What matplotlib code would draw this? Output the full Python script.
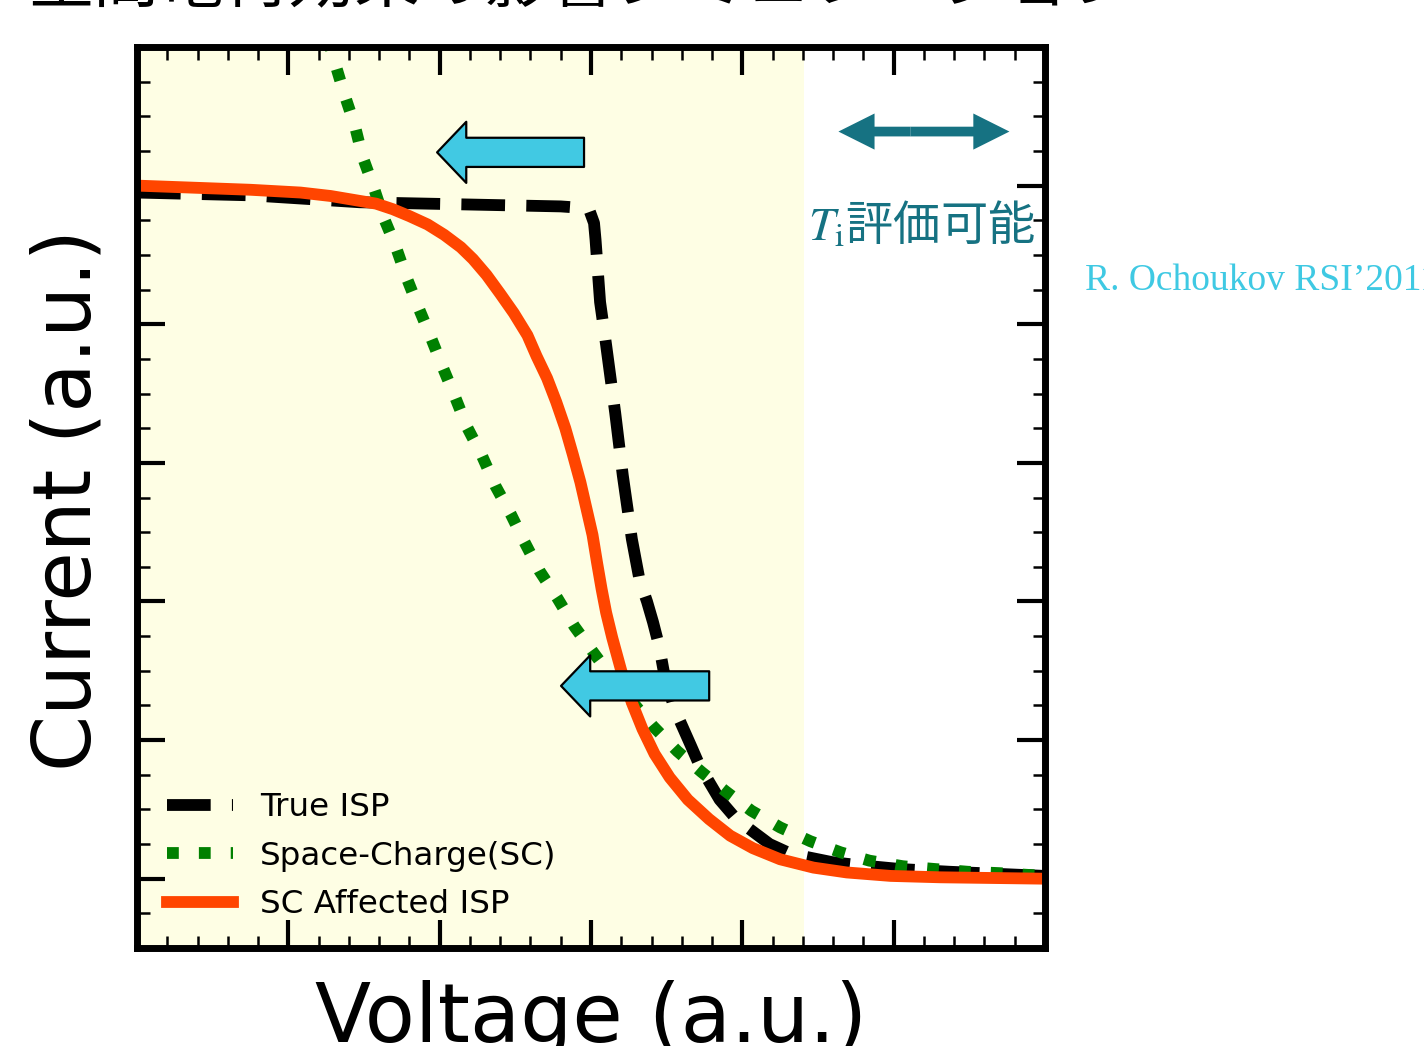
import matplotlib
matplotlib.use('Agg')
import matplotlib.pyplot as plt
from matplotlib.ticker import MultipleLocator, AutoMinorLocator
from matplotlib.patches import FancyArrowPatch

plt.rcParams['font.family'] = ['DejaVu Sans', 'Noto Sans CJK JP']
plt.rcParams['mathtext.fontset'] = 'stix'

# ---- data (arbitrary units) ----
true_x = [0.00, 0.75, 1.47, 2.80, 2.93, 2.99, 3.02, 3.03, 3.06, 3.10, 3.16, 3.21,
          3.27, 3.32, 3.37, 3.41, 3.45, 3.48, 3.55, 3.66, 3.72, 3.85, 3.96, 4.18,
          4.32, 4.59, 4.75, 5.04, 5.37, 6.00]
true_y = [4.95, 4.93, 4.88, 4.85, 4.84, 4.82, 4.73, 4.61, 4.16, 3.85, 3.36, 2.91,
          2.45, 2.16, 2.00, 1.85, 1.68, 1.50, 1.23, 0.96, 0.81, 0.57, 0.43, 0.25,
          0.18, 0.12, 0.10, 0.07, 0.05, 0.02]

sc_x = [1.26, 1.37, 1.44, 1.49, 1.56, 1.63, 1.71, 1.78, 1.86, 1.94, 2.02, 2.10,
        2.18, 2.28, 2.37, 2.47, 2.56, 2.66, 2.78, 2.89, 3.01, 3.16, 3.41, 3.57,
        3.73, 3.89, 4.06, 4.25, 4.45, 4.65, 4.84, 5.06, 5.27, 5.49, 5.70, 6.00]
sc_y = [6.06, 5.66, 5.43, 5.21, 5.00, 4.77, 4.56, 4.34, 4.12, 3.91, 3.69, 3.48,
        3.26, 3.05, 2.83, 2.63, 2.43, 2.22, 2.02, 1.82, 1.64, 1.42, 1.10, 0.92,
        0.77, 0.63, 0.49, 0.37, 0.27, 0.19, 0.13, 0.09, 0.07, 0.05, 0.04, 0.02]

aff_x = [0.00, 0.75, 1.08, 1.28, 1.47, 1.58, 1.69, 1.80, 1.92, 2.03, 2.14, 2.22,
         2.31, 2.40, 2.49, 2.58, 2.64, 2.71, 2.77, 2.83, 2.88, 2.93, 2.97, 3.01,
         3.04, 3.07, 3.10, 3.14, 3.20, 3.27, 3.34, 3.42, 3.52, 3.64, 3.78, 3.92,
         4.07, 4.25, 4.47, 4.69, 4.98, 5.31, 6.00]
aff_y = [5.00, 4.97, 4.95, 4.925, 4.89, 4.87, 4.83, 4.78, 4.72, 4.645, 4.555, 4.47,
         4.355, 4.22, 4.08, 3.92, 3.77, 3.61, 3.44, 3.25, 3.06, 2.86, 2.67, 2.48,
         2.28, 2.09, 1.92, 1.74, 1.50, 1.27, 1.08, 0.90, 0.73, 0.57, 0.43, 0.31,
         0.22, 0.14, 0.08, 0.045, 0.02, 0.01, 0.0]

labels = ['True ISP', 'Space-Charge(SC)', 'SC Affected ISP']
ti_region_end = 4.41

W, H = 1424, 1046
fig = plt.figure(figsize=(W / 100, H / 100), dpi=100)
ax = fig.add_axes([137 / W, 1 - 948 / H, 908 / W, 901 / H])
ax.set_xlim(0, 6)
ax.set_ylim(-0.5, 6.0)

ax.axvspan(0, ti_region_end, color='#FEFEE4', lw=0, zorder=0)

ax.plot(true_x, true_y, color='black', lw=8.5, ls=(0, (3.7, 1.8)), label=labels[0], zorder=2)
ax.plot(sc_x, sc_y, color='#008000', lw=8.5, ls=(0, (1.0, 1.7)), label=labels[1], zorder=2)
ax.plot(aff_x, aff_y, color='#FF4500', lw=8.5, label=labels[2], zorder=2)

leg = ax.legend(loc='lower left', bbox_to_anchor=(0.033, 0.031), frameon=False,
                fontsize=23.4, handlelength=2.03, handletextpad=0.83,
                labelspacing=0.535, borderpad=0, borderaxespad=0)

# ticks
ax.xaxis.set_major_locator(MultipleLocator(1))
ax.xaxis.set_minor_locator(AutoMinorLocator(5))
ax.yaxis.set_major_locator(MultipleLocator(1))
ax.yaxis.set_minor_locator(AutoMinorLocator(4))
ax.tick_params(which='both', direction='in', top=True, right=True,
               labelbottom=False, labelleft=False)
ax.tick_params(which='major', length=20, width=3)
ax.tick_params(which='minor', length=9, width=1.8)
for s in ax.spines.values():
    s.set_linewidth(5)

ax.set_xlabel('Voltage (a.u.)', fontsize=59)
ax.xaxis.set_label_coords(0.5, -0.036)
ax.set_ylabel('Current (a.u.)', fontsize=58)
ax.yaxis.set_label_coords(-0.0326, 0.497)

# block arrows (cyan, pointing left)
cyan = '#41C9E3'
for (xr, xl, yy) in [(2.954, 1.983, 5.24), (3.781, 2.802, 1.391)]:
    arr = FancyArrowPatch((xr, yy), (xl, yy),
                          arrowstyle='simple,head_length=21,head_width=44,tail_width=21',
                          mutation_scale=1, shrinkA=0, shrinkB=0,
                          facecolor=cyan, edgecolor='black', lw=1.6, zorder=5)
    ax.add_patch(arr)

# teal double arrow
teal = '#167282'
xc = 5.11
for xe in (4.635, 5.765):
    arr = FancyArrowPatch((xc, 5.39), (xe, 5.39),
                          arrowstyle='simple,head_length=26,head_width=26,tail_width=7',
                          mutation_scale=1, shrinkA=0, shrinkB=0,
                          facecolor=teal, edgecolor='none', lw=0, zorder=5)
    ax.add_patch(arr)

fig.text(808 / W, 1 - 241 / H, r'$T_{\mathrm{i}}$評価可能', color=teal, fontsize=34,
         family=['Noto Sans CJK JP', 'DejaVu Sans'], ha='left', va='baseline')

fig.text(1085 / W, 1 - 290 / H, 'R. Ochoukov RSI\u20192011', color='#3FC9E3',
         fontsize=27, family='Liberation Serif', ha='left', va='baseline')

fig.text(28 / W, 1 - 2 / H, '空間電荷効果の影響シミュレーション', color='black',
         fontsize=47, family=['Noto Sans CJK JP', 'DejaVu Sans'], ha='left', va='baseline')

fig.savefig('out.png', dpi=100)
